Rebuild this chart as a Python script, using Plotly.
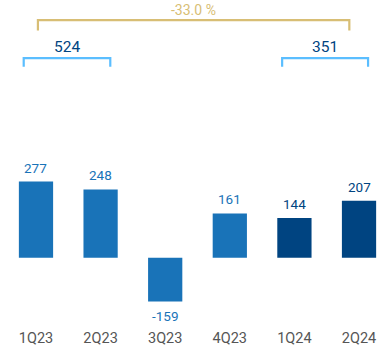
import plotly.graph_objects as go

categories = ["1Q23", "2Q23", "3Q23", "4Q23", "1Q24", "2Q24"]
values = [277, 248, -159, 161, 144, 207]
bar_colors = ["#1973B8", "#1973B8", "#1973B8", "#1973B8", "#004481", "#004481"]
label_colors = ["#1973B8", "#1973B8", "#1973B8", "#1973B8", "#004481", "#004481"]
semester_labels = ["524", "351"]
change_label = "-33.0 %"

FONT = "Roboto"
fig = go.Figure()
fig.add_trace(go.Bar(
    x=categories, y=values, marker=dict(color=bar_colors, line=dict(width=0)),
    width=0.53, hoverinfo="skip"))

for c, v, col in zip(categories, values, label_colors):
    fig.add_annotation(x=c, y=v, text=str(v), showarrow=False,
                       yanchor="middle", yshift=14 if v >= 0 else -15,
                       font=dict(family=FONT, size=13.5, color=col))

# semester brackets (light blue)
bl = "#5BBEFF"
br_top, br_bot = 726, 694
for x0, x1, lab in [(-0.19, 1.15, semester_labels[0]), (3.81, 5.14, semester_labels[1])]:
    fig.add_shape(type="path",
                  path=f"M {x0} {br_bot} L {x0} {br_top} L {x1} {br_top} L {x1} {br_bot}",
                  xref="x", yref="y", line=dict(color=bl, width=2.2))
    fig.add_annotation(x=(x0 + x1) / 2, y=br_top, text=lab, showarrow=False,
                       yanchor="middle", yshift=11,
                       font=dict(family=FONT, size=15.5, color="#004481"))

# year-over-year bracket (gold)
gold = "#D8BE75"
g_top, g_bot = 864, 826
gx0, gx1 = 0.03, 4.85
fig.add_shape(type="path",
              path=f"M {gx0} {g_bot} L {gx0} {g_top} L {gx1} {g_top} L {gx1} {g_bot}",
              xref="x", yref="y", line=dict(color=gold, width=2.2))
fig.add_annotation(x=(gx0 + gx1) / 2, y=g_top, text=change_label, showarrow=False,
                   yanchor="middle", yshift=10,
                   font=dict(family=FONT, size=14, color=gold))

fig.update_layout(
    width=389, height=357, margin=dict(l=0, r=0, t=0, b=30),
    paper_bgcolor="white", plot_bgcolor="white", showlegend=False,
    xaxis=dict(range=[-0.557, 5.464], showgrid=False, zeroline=False, showline=False,
               ticks="", tickfont=dict(family=FONT, size=14.5, color="#555555"),
               fixedrange=True),
    yaxis=dict(range=[-252, 937], visible=False, fixedrange=True),
)
fig.write_html("out.html", post_script="document.body.style.margin='0';",
               config={"displayModeBar": False})
